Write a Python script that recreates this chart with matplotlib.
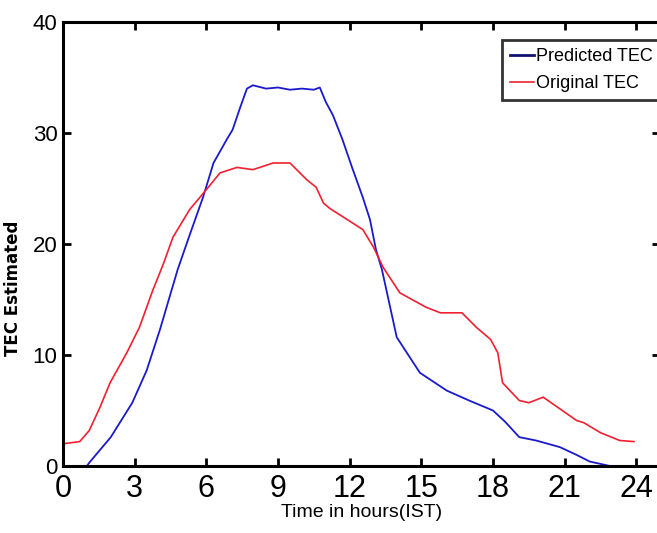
import matplotlib.pyplot as plt

plt.rcParams["font.family"] = ["Liberation Sans", "DejaVu Sans"]

# Predicted TEC (blue)
pred_hours = [0, 1.0, 1.1, 2.0, 2.9, 3.5, 4.06, 4.8, 5.3, 5.86, 6.3, 6.85, 7.1, 7.4, 7.7,
              7.95, 8.5, 9.0, 9.5, 10.0, 10.5, 10.75, 11.0, 11.3, 11.7, 12.1, 12.55,
              12.85, 13.1, 13.35, 13.97, 14.94, 16.06, 17.0, 18.0, 18.5, 19.1, 19.8,
              20.8, 21.5, 22.05, 22.9, 24.0]
pred_tec = [0, 0, 0.3, 2.6, 5.7, 8.6, 12.3, 17.7, 20.8, 24.2, 27.3, 29.4, 30.3, 32.2, 34.0,
            34.3, 34.0, 34.1, 33.9, 34.0, 33.9, 34.1, 32.8, 31.6, 29.4, 26.9, 24.2,
            22.2, 19.5, 17.7, 11.6, 8.4, 6.8, 5.9, 5.0, 4.0, 2.6, 2.3, 1.7, 1.0, 0.4, 0, 0]

# Original TEC (red)
orig_hours = [0, 0.7, 1.1, 1.55, 1.97, 2.67, 3.2, 3.77, 4.2, 4.6, 5.3, 6.0, 6.57, 7.28,
              7.95, 8.8, 9.5, 10.2, 10.6, 10.9, 11.17, 11.9, 12.55, 13.0, 13.4, 14.1,
              15.2, 15.8, 16.7, 17.3, 17.9, 18.2, 18.4, 19.1, 19.5, 20.1, 20.7, 21.5,
              21.8, 22.5, 23.3, 23.9]
orig_tec = [2.0, 2.2, 3.2, 5.3, 7.5, 10.2, 12.5, 15.9, 18.2, 20.6, 23.1, 24.9, 26.4, 26.9,
            26.7, 27.3, 27.3, 25.8, 25.1, 23.7, 23.2, 22.2, 21.3, 19.7, 17.9, 15.6,
            14.3, 13.8, 13.8, 12.5, 11.4, 10.2, 7.5, 5.9, 5.7, 6.2, 5.3, 4.1,
            3.9, 3.0, 2.3, 2.2]

x_ticks = [0, 3, 6, 9, 12, 15, 18, 21, 24]
y_ticks = [0, 10, 20, 30, 40]

fig = plt.figure(figsize=(6.57, 5.33), dpi=100)
ax = fig.add_axes([0.0959, 0.1257, 0.909, 0.833])

ax.plot(pred_hours, pred_tec, color="#1a1acc", lw=1.3, label="Predicted TEC")
ax.plot(orig_hours, orig_tec, color="#f02030", lw=1.2, label="Original TEC")

ax.set_xlim(0, 25)
ax.set_ylim(0, 40)
ax.set_xticks(x_ticks)
ax.set_yticks(y_ticks)
ax.tick_params(direction="in", top=True, right=True, length=6, width=2)
ax.tick_params(axis="x", labelsize=22, pad=6)
ax.tick_params(axis="y", labelsize=16, pad=4)
for s in ax.spines.values():
    s.set_linewidth(2.2)

ax.set_xlabel("Time in hours(IST)", fontsize=14, labelpad=0)
ax.set_ylabel("TEC Estimated", fontsize=12, fontweight="bold", family="DejaVu Sans")
ax.yaxis.set_label_coords(-0.068, 0.4)

leg = ax.legend(loc="upper left", bbox_to_anchor=(0.735, 0.96), fontsize=13,
                frameon=True, fancybox=False, handlelength=1.3, handletextpad=0.15,
                borderpad=0.45, labelspacing=0.55, borderaxespad=0)
leg.get_frame().set_edgecolor("black")
leg.get_frame().set_linewidth(2)
leg.get_lines()[0].set_color("#101070")
leg.get_lines()[0].set_linewidth(2)

fig.savefig("out.png", dpi=100)
